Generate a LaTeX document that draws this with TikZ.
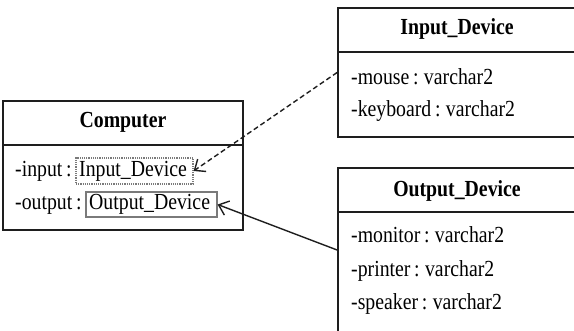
\documentclass[tikz,border=0pt]{standalone}
\usepackage{fontspec}
\setmainfont[FakeStretch=0.86,WordSpace=0.75]{Liberation Serif}
\usetikzlibrary{arrows.meta}
\definecolor{ln}{HTML}{1E1E1E}
\definecolor{inner}{HTML}{7A7A7A}
\begin{document}
\begin{tikzpicture}[x=1pt,y=-1pt,
  cls/.style={draw=ln, line width=1.8pt, inner sep=0pt},
  hdr/.style={font=\fontsize{23}{26}\selectfont\bfseries, inner sep=0pt, anchor=base},
  lbl/.style={font=\fontsize{23}{26}\selectfont, inner sep=0pt, anchor=base west},
  tbox/.style={draw=inner, line width=1.2pt, inner sep=0pt},
  arr/.style={draw=ln, line width=1.4pt, -{Straight Barb[length=9pt,width=15pt,line width=1.4pt]}}]
\useasboundingbox (0,0) rectangle (574,331);
\clip (0,0) rectangle (574,331);
% Computer class
\node[cls, minimum width=240pt, minimum height=129pt] (comp) at (123,165.5) {};
\draw[ln, line width=1.8pt] (comp.west |- 0,145) -- (comp.east |- 0,145);
\node[hdr] (comph) at (123,128) {Computer};
\node[lbl] (cin) at (15,177) {-input :};
\node[tbox, densely dotted, minimum width=117pt, minimum height=26pt] (inbox) at (134.5,171) {};
\node[lbl] (cintype) at (79,177) {Input\_Device};
\node[lbl] (cout) at (15,210) {-output :};
\node[tbox, minimum width=131pt, minimum height=25pt] (outbox) at (151.5,204.5) {};
\node[lbl] (couttype) at (89,210) {Output\_Device};
% Input_Device class
\node[cls, minimum width=238pt, minimum height=129pt] (indev) at (457,72.5) {};
\draw[ln, line width=1.8pt] (indev.west |- 0,52) -- (indev.east |- 0,52);
\node[hdr] (indevh) at (457,35) {Input\_Device};
\node[lbl] (mouse) at (351,85) {-mouse : varchar2};
\node[lbl] (keyb) at (351,117) {-keyboard : varchar2};
% Output_Device class
\node[cls, minimum width=238pt, minimum height=164pt] (outdev) at (457,250) {};
\draw[ln, line width=1.8pt] (outdev.west |- 0,212) -- (outdev.east |- 0,212);
\node[hdr] (outdevh) at (457,197) {Output\_Device};
\node[lbl] (mon) at (351,243) {-monitor : varchar2};
\node[lbl] (prn) at (351,277) {-printer : varchar2};
\node[lbl] (spk) at (351,310) {-speaker : varchar2};
% connectors
\draw[arr, dash pattern=on 5pt off 3pt] (indev.west) -- (inbox.east);
\draw[arr] (outdev.west) -- (outbox.east);
\end{tikzpicture}
\end{document}
